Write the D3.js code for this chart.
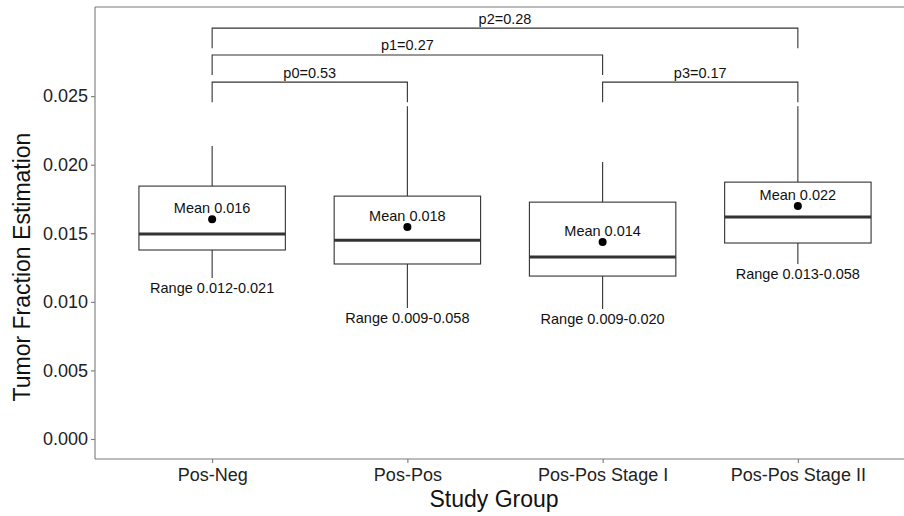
<!DOCTYPE html>
<html>
<head>
<meta charset="utf-8">
<script src="https://cdn.jsdelivr.net/npm/d3@7"></script>
<style>
  html, body { margin: 0; padding: 0; background: #ffffff; }
  svg { display: block; font-family: "Liberation Sans", Arial, Helvetica, sans-serif; }
</style>
</head>
<body>
<svg id="chart" width="904" height="516"></svg>
<script>
// ---- data ----
const categories = ["Pos-Neg", "Pos-Pos", "Pos-Pos Stage I", "Pos-Pos Stage II"];
const whiskerLow  = [0.01173, 0.00955, 0.00948, 0.01276];
const q1          = [0.01378, 0.01276, 0.01188, 0.01429];
const medians     = [0.01494, 0.01450, 0.01327, 0.01618];
const q3          = [0.01844, 0.01771, 0.01727, 0.01873];
const whiskerHigh = [0.02136, 0.02427, 0.02019, 0.02427];
const means       = [0.01603, 0.01545, 0.01436, 0.01698];
const meanLabels  = ["Mean 0.016", "Mean 0.018", "Mean 0.014", "Mean 0.022"];
const rangeLabels = ["Range 0.012-0.021", "Range 0.009-0.058", "Range 0.009-0.020", "Range 0.013-0.058"];

const bracketFrom   = ["Pos-Neg", "Pos-Neg", "Pos-Neg", "Pos-Pos Stage I"];
const bracketTo     = ["Pos-Pos", "Pos-Pos Stage I", "Pos-Pos Stage II", "Pos-Pos Stage II"];
const bracketY      = [0.02602, 0.02800, 0.02996, 0.02602];
const bracketLabels = ["p0=0.53", "p1=0.27", "p2=0.28", "p3=0.17"];
const tipLength = 0.00146;

const yTicks = [0.000, 0.005, 0.010, 0.015, 0.020, 0.025];
const yTitle = "Tumor Fraction Estimation";
const xTitle = "Study Group";

// ---- layout ----
const svg = d3.select("#chart");
const panel = { left: 95, right: 915, top: 7, bottom: 459 };

const x = d3.scalePoint().domain(categories).range([panel.left, panel.right]).padding(0.6);
const y = d3.scaleLinear().domain([-0.00146, 0.0315]).range([panel.bottom, panel.top]);
const boxW = x.step() * 0.75;

const lineCol = "#333333";
const axisCol = "#7a7a7a";

// panel border (top, left, bottom)
const g = svg.append("g");
g.append("line").attr("x1", panel.left).attr("x2", panel.right).attr("y1", panel.top).attr("y2", panel.top)
  .attr("stroke", axisCol).attr("stroke-width", 1.1);

// axes
const yAxis = d3.axisLeft(y).tickValues(yTicks).tickFormat(d3.format(".3f")).tickSize(4).tickPadding(3);
const yg = svg.append("g").attr("transform", `translate(${panel.left},0)`).call(yAxis);
yg.select(".domain").attr("d", `M0,${panel.top}V${panel.bottom}`).attr("stroke", axisCol).attr("stroke-width", 1.1);
yg.selectAll(".tick line").attr("stroke", axisCol).attr("stroke-width", 1.1);
yg.selectAll(".tick text").attr("fill", "#222").style("font-size", "18px").style("font-family", "inherit");

const xAxis = d3.axisBottom(x).tickSize(4).tickPadding(5);
const xg = svg.append("g").attr("transform", `translate(0,${panel.bottom})`).call(xAxis);
xg.select(".domain").attr("d", `M${panel.left},0H${panel.right}`).attr("stroke", axisCol).attr("stroke-width", 1.1);
xg.selectAll(".tick line").attr("stroke", axisCol).attr("stroke-width", 1.1);
xg.selectAll(".tick text").attr("fill", "#222").style("font-size", "18px").style("font-family", "inherit");

// axis titles
svg.append("text").attr("transform", `translate(30,267) rotate(-90)`)
  .attr("text-anchor", "middle").attr("fill", "#111").style("font-size", "23px").text(yTitle);
svg.append("text").attr("x", 494).attr("y", 507)
  .attr("text-anchor", "middle").attr("fill", "#111").style("font-size", "23px").text(xTitle);

// boxes
const idx = d3.range(categories.length);
const bg = svg.append("g");
idx.forEach(i => {
  const cx = x(categories[i]);
  // whiskers
  bg.append("line").attr("x1", cx).attr("x2", cx).attr("y1", y(whiskerHigh[i])).attr("y2", y(q3[i]))
    .attr("stroke", lineCol).attr("stroke-width", 1.1);
  bg.append("line").attr("x1", cx).attr("x2", cx).attr("y1", y(q1[i])).attr("y2", y(whiskerLow[i]))
    .attr("stroke", lineCol).attr("stroke-width", 1.1);
  // box
  bg.append("rect").attr("x", cx - boxW / 2).attr("y", y(q3[i]))
    .attr("width", boxW).attr("height", y(q1[i]) - y(q3[i]))
    .attr("fill", "#fff").attr("stroke", lineCol).attr("stroke-width", 1.1);
  // median
  bg.append("line").attr("x1", cx - boxW / 2).attr("x2", cx + boxW / 2)
    .attr("y1", y(medians[i])).attr("y2", y(medians[i]))
    .attr("stroke", lineCol).attr("stroke-width", 3);
  // mean point
  bg.append("circle").attr("cx", cx).attr("cy", y(means[i])).attr("r", 4).attr("fill", "#000");
  // labels
  bg.append("text").attr("x", cx).attr("y", y(means[i]) - 6.5).attr("text-anchor", "middle")
    .attr("fill", "#111").style("font-size", "14.5px").text(meanLabels[i]);
  bg.append("text").attr("x", cx).attr("y", y(whiskerLow[i]) + 15).attr("text-anchor", "middle")
    .attr("fill", "#111").style("font-size", "14.5px").text(rangeLabels[i]);
});

// significance brackets
const br = svg.append("g");
bracketLabels.forEach((lab, i) => {
  const x1 = x(bracketFrom[i]), x2 = x(bracketTo[i]);
  const yb = y(bracketY[i]), yt = y(bracketY[i] - tipLength);
  br.append("path").attr("d", `M${x1},${yt}V${yb}H${x2}V${yt}`)
    .attr("fill", "none").attr("stroke", lineCol).attr("stroke-width", 1.1);
  br.append("text").attr("x", (x1 + x2) / 2).attr("y", yb - 4.5).attr("text-anchor", "middle")
    .attr("fill", "#111").style("font-size", "14.5px").text(lab);
});
</script>
</body>
</html>
